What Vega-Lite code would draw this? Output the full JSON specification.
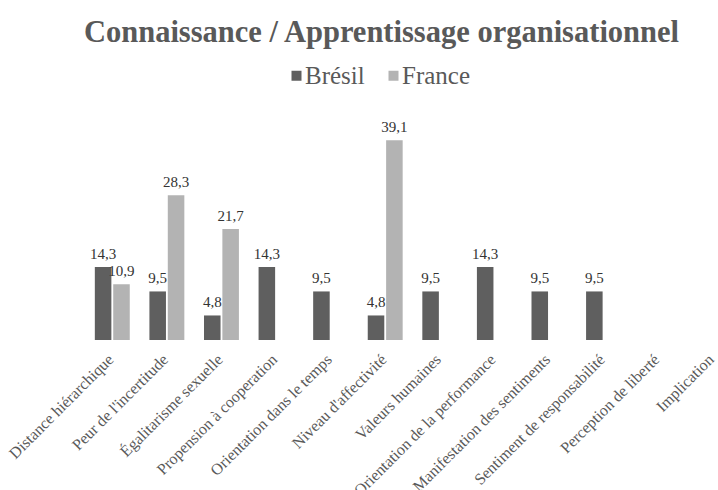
{
  "$schema": "https://vega.github.io/schema/vega-lite/v6.json",
  "autosize": {"type": "none"},
  "width": 655,
  "height": 230,
  "padding": {"left": 85, "top": 110, "right": 0, "bottom": 150},
  "background": "white",
  "config": {
    "view": {"stroke": null},
    "locale": {"number": {"decimal": ",", "thousands": " ", "grouping": [3], "currency": ["", " €"]}}
  },
  "title": {
    "text": "Connaissance / Apprentissage organisationnel",
    "font": "Liberation Serif",
    "fontSize": 30.5,
    "fontWeight": "bold",
    "color": "#595959",
    "anchor": "middle",
    "baseline": "alphabetic",
    "dx": -31,
    "offset": -9
  },
  "data": {
    "values": [
      {"critere": "Distance hiérarchique", "pays": "Brésil", "valeur": 14.3},
      {"critere": "Distance hiérarchique", "pays": "France", "valeur": 10.9},
      {"critere": "Peur de l'incertitude", "pays": "Brésil", "valeur": 9.5},
      {"critere": "Peur de l'incertitude", "pays": "France", "valeur": 28.3},
      {"critere": "Égalitarisme sexuelle", "pays": "Brésil", "valeur": 4.8},
      {"critere": "Égalitarisme sexuelle", "pays": "France", "valeur": 21.7},
      {"critere": "Propension à cooperation", "pays": "Brésil", "valeur": 14.3},
      {"critere": "Orientation dans le temps", "pays": "Brésil", "valeur": 9.5},
      {"critere": "Niveau d'affectivité", "pays": "Brésil", "valeur": 4.8},
      {"critere": "Niveau d'affectivité", "pays": "France", "valeur": 39.1},
      {"critere": "Valeurs humaines", "pays": "Brésil", "valeur": 9.5},
      {"critere": "Orientation de la performance", "pays": "Brésil", "valeur": 14.3},
      {"critere": "Manifestation des sentiments", "pays": "Brésil", "valeur": 9.5},
      {"critere": "Sentiment de responsabilité", "pays": "Brésil", "valeur": 9.5}
    ]
  },
  "encoding": {
    "x": {
      "field": "critere",
      "type": "nominal",
      "sort": null,
      "scale": {
        "domain": ["Distance hiérarchique", "Peur de l'incertitude", "Égalitarisme sexuelle", "Propension à cooperation", "Orientation dans le temps", "Niveau d'affectivité", "Valeurs humaines", "Orientation de la performance", "Manifestation des sentiments", "Sentiment de responsabilité", "Perception de liberté", "Implication"],
        "paddingInner": 0.36,
        "paddingOuter": 0.18
      },
      "axis": {
        "title": null,
        "labelAngle": -45,
        "labelFont": "Liberation Serif",
        "labelFontSize": 16,
        "labelColor": "#595959",
        "labelLimit": 0,
        "labelPadding": 11,
        "labelOffset": -7,
        "domain": false,
        "ticks": false,
        "grid": false
      }
    },
    "xOffset": {
      "field": "pays",
      "type": "nominal",
      "scale": {"domain": ["Brésil", "France"], "paddingInner": 0.1}
    },
    "y": {
      "field": "valeur",
      "type": "quantitative",
      "scale": {"domain": [0, 45]},
      "axis": null
    }
  },
  "layer": [
    {
      "mark": {"type": "bar"},
      "encoding": {
        "color": {
          "field": "pays",
          "type": "nominal",
          "scale": {"domain": ["Brésil", "France"], "range": ["#5f5f5f", "#b3b3b3"]},
          "legend": {
            "title": null,
            "orient": "none",
            "legendX": 199,
            "legendY": -47,
            "direction": "horizontal",
            "symbolType": "square",
            "symbolSize": 100,
            "symbolStrokeWidth": 0,
            "labelFont": "Liberation Serif",
            "labelFontSize": 25,
            "labelColor": "#595959",
            "columnPadding": 16,
            "labelOffset": -4
          }
        }
      }
    },
    {
      "mark": {"type": "text", "dy": -8, "baseline": "alphabetic", "font": "Liberation Serif", "fontSize": 15, "color": "#333333"},
      "encoding": {
        "text": {"field": "valeur", "type": "quantitative", "format": ".1f"}
      }
    }
  ]
}
